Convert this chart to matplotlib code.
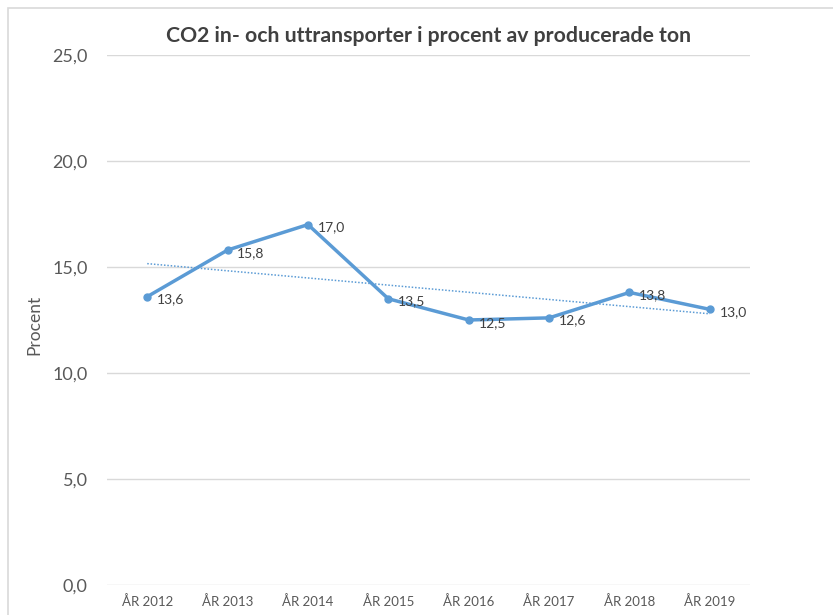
import numpy as np
import matplotlib
matplotlib.use('Agg')
import matplotlib.pyplot as plt
from matplotlib.patches import Rectangle

years = ['ÅR 2012', 'ÅR 2013', 'ÅR 2014', 'ÅR 2015', 'ÅR 2016', 'ÅR 2017', 'ÅR 2018', 'ÅR 2019']
procent = [13.6, 15.8, 17.0, 13.5, 12.5, 12.6, 13.8, 13.0]
y_ticks = [0, 5, 10, 15, 20, 25]

plt.rcParams['font.family'] = ['Lato', 'DejaVu Sans']

line_color = '#5B9BD5'
text_color = '#595959'

fig = plt.figure(figsize=(8.33, 6.15), dpi=100)
ax = fig.add_axes([0.1285, 0.0488, 0.7719, 0.8618])

# light frame around the chart area
fig.patches.append(Rectangle((8 / 833, -0.1), 1.2, 1 - 8 / 615 + 0.1, transform=fig.transFigure,
                             fill=False, edgecolor='#D9D9D9', linewidth=1.2))

x = np.arange(len(years))
ax.plot(x, procent, color=line_color, linewidth=2.5, marker='o', markersize=5, zorder=3)

# linear trendline
k, m = np.polyfit(x, procent, 1)
ax.plot(x, k * x + m, color=line_color, linewidth=1.1, linestyle=(0, (1, 1.2)), zorder=2)

for xi, yi in zip(x, procent):
    ax.annotate(f'{yi:.1f}'.replace('.', ','), (xi, yi), xytext=(7, -2), textcoords='offset points',
                ha='left', va='center', fontsize=10, color='#404040')

ax.set_xlim(-0.5, len(years) - 0.5)
ax.set_ylim(0, 25)
ax.set_yticks(y_ticks)
ax.set_yticklabels([f'{v:.1f}'.replace('.', ',') for v in y_ticks], fontsize=13, color=text_color)
ax.set_xticks(x)
ax.set_xticklabels(years, fontsize=9.5, color=text_color)
ax.tick_params(length=0)
ax.tick_params(axis='y', pad=14)
ax.tick_params(axis='x', pad=7)
ax.yaxis.grid(True, color='#D9D9D9', linewidth=1)
ax.set_axisbelow(True)
for s in ax.spines.values():
    s.set_visible(False)

ax.set_ylabel('Procent', fontsize=12.5, color=text_color)
ax.yaxis.set_label_coords(-0.1, 0.49)
ax.set_title('CO2 in- och uttransporter i procent av producerade ton', fontsize=15.3,
             fontweight='bold', color='#404040', pad=9)

fig.savefig('out.png', dpi=100)
